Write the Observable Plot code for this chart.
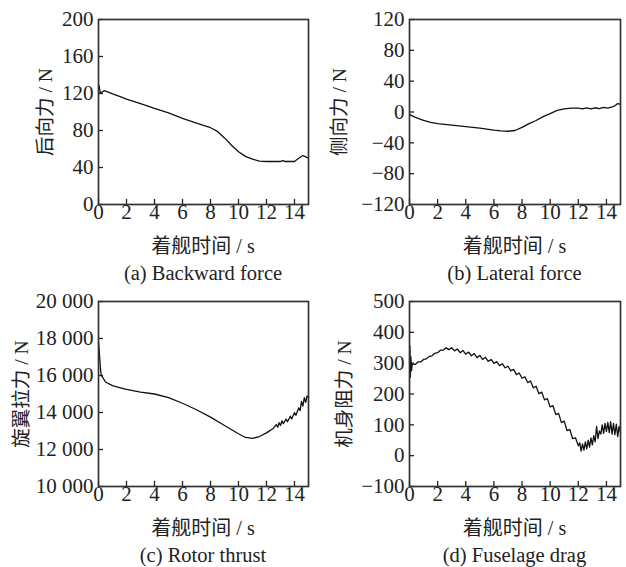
<!DOCTYPE html>
<html>
<head>
<meta charset="utf-8">
<script src="https://cdn.jsdelivr.net/npm/d3@7"></script>
<script src="https://cdn.jsdelivr.net/npm/@observablehq/plot@0.6"></script>
<style>
  html, body { margin: 0; padding: 0; background: #fff; }
  #wrap { position: relative; width: 626px; height: 567px; background: #fff; overflow: hidden;
          font-family: "Liberation Serif", "Noto Sans CJK SC", serif; color: #222; }
  .panel { position: absolute; }
  .lbl { position: absolute; white-space: nowrap; font-size: 20px; transform: translate(-50%, -50%); line-height: 1; }
  .cap { font-size: 20.5px; }
  .ylbl { position: absolute; white-space: nowrap; font-size: 19.5px; transform: translate(-50%, -50%) rotate(-90deg); line-height: 1; }
</style>
</head>
<body>
<div id="wrap"></div>
<script>
// ---- data ----
const xTicks = [0, 2, 4, 6, 8, 10, 12, 14];

const tA = [0, 0.04, 0.12, 0.25, 0.41, 0.7, 1, 1.5, 2, 3, 4, 5, 6, 7, 8, 8.5, 9, 9.5, 10, 10.5, 11, 11.5, 12, 12.5, 13, 13.2, 13.3, 13.5, 14, 14.3, 14.6, 14.8, 15];
const yA = [126, 128.5, 121, 121.5, 123, 121.5, 119.5, 117, 114, 109, 104, 99, 93, 88, 83, 79, 72, 64, 57, 52, 49, 47, 46.5, 46.5, 46.5, 47.5, 46.5, 46.5, 46.5, 50, 53, 51.5, 50];
const yTicksA = [0, 40, 80, 120, 160, 200];

const tB = [0, 0.3, 0.7, 1, 1.5, 2, 2.5, 3, 4, 5, 6, 6.5, 7, 7.5, 8, 8.5, 9, 9.5, 10, 10.5, 11, 11.5, 12, 12.3, 12.6, 12.9, 13.2, 13.5, 13.8, 14.1, 14.4, 14.6, 14.8, 15];
const yB = [-3, -6, -9, -11, -13.5, -15, -16, -17, -19, -21, -23.5, -24.5, -25, -24, -20, -15, -11, -6, -2, 2, 4, 5, 5, 4, 5.5, 4, 5.5, 4.5, 6, 5, 6.5, 8, 11, 10];
const yTicksB = [-120, -80, -40, 0, 40, 80, 120];

const tC = [0, 0.05, 0.1, 0.15, 0.2, 0.3, 0.5, 1, 1.5, 2, 3, 4, 5, 6, 7, 8, 9, 10, 10.5, 11, 11.5, 12, 12.5, 12.7, 12.8, 12.9, 13.0, 13.1, 13.2, 13.4, 13.5, 13.7, 13.8, 14.0, 14.1, 14.3, 14.4, 14.5, 14.6, 14.7, 14.8, 14.9, 15];
const yC = [17800, 17300, 16800, 16300, 16000, 15900, 15650, 15450, 15350, 15250, 15100, 15000, 14800, 14500, 14150, 13750, 13300, 12850, 12650, 12600, 12700, 12900, 13150, 13350, 13200, 13450, 13300, 13550, 13400, 13650, 13500, 13800, 13650, 14000, 13850, 14250, 14100, 14600, 14350, 14800, 14550, 14900, 14800];
const yTicksC = [10000, 12000, 14000, 16000, 18000, 20000];

const tD = [0, 0.03, 0.06, 0.1, 0.14, 0.2, 0.4, 0.6, 0.8, 1.0, 1.2, 1.4, 1.6, 1.8, 2.0, 2.2, 2.4, 2.6, 2.8, 3.0, 3.2, 3.4, 3.6, 3.8, 4.0, 4.2, 4.4, 4.6, 4.8, 5.0, 5.2, 5.4, 5.6, 5.8, 6.0, 6.2, 6.4, 6.6, 6.8, 7.0, 7.2, 7.4, 7.6, 7.8, 8.0, 8.2, 8.4, 8.6, 8.8, 9.0, 9.2, 9.4, 9.6, 9.8, 10.0, 10.2, 10.4, 10.6, 10.8, 11.0, 11.2, 11.4, 11.6, 11.8, 12.0, 12.1, 12.2, 12.3, 12.4, 12.5, 12.6, 12.7, 12.8, 12.9, 13.0, 13.1, 13.2, 13.3, 13.4, 13.5, 13.6, 13.7, 13.8, 13.9, 14.0, 14.1, 14.2, 14.3, 14.4, 14.5, 14.6, 14.7, 14.8, 14.9, 15.0];
const yD = [300, 355, 255, 320, 275, 298, 296, 304, 304, 312, 314, 322, 324, 332, 334, 342, 342, 350, 344, 350, 340, 346, 334, 341, 329, 336, 324, 331, 318, 325, 312, 319, 306, 312, 299, 305, 292, 298, 285, 290, 275, 280, 263, 268, 251, 256, 237, 242, 220, 225, 201, 206, 181, 185, 158, 162, 133, 137, 107, 112, 81, 85, 55, 58, 32, 42, 15, 38, 18, 45, 22, 50, 28, 58, 35, 65, 45, 95, 55, 80, 70, 100, 72, 105, 78, 108, 75, 110, 70, 105, 68, 102, 62, 95, 75];
const yTicksD = [-100, 0, 100, 200, 300, 400, 500];

const xLabel = "着舰时间 / s";
const panels = [
  {t: tA, y: yA, ticks: yTicksA, ylabel: "后向力 / N", caption: "(a) Backward force", left: 0, top: 0, mL: 98, mR: 5, mT: 19, fmt: d3.format("d"), ylx: 46},
  {t: tB, y: yB, ticks: yTicksB, ylabel: "侧向力 / N", caption: "(b) Lateral force", left: 313, top: 0, mL: 96, mR: 6, mT: 19, fmt: d3.format("d"), ylx: 27},
  {t: tC, y: yC, ticks: yTicksC, ylabel: "旋翼拉力 / N", caption: "(c) Rotor thrust", left: 0, top: 280, mL: 98, mR: 5, mT: 21, fmt: d => d3.format(",")(d).replace(",", " "), ylx: 22},
  {t: tD, y: yD, ticks: yTicksD, ylabel: "机身阻力 / N", caption: "(d) Fuselage drag", left: 313, top: 280, mL: 96, mR: 6, mT: 21, fmt: d3.format("d"), ylx: 32}
];

const wrap = document.getElementById("wrap");
const W = 313, frameH = 185, mB = 30;

for (const p of panels) {
  const data = p.t.map((t, i) => ({t, v: p.y[i]}));
  const chart = Plot.plot({
    width: W,
    height: p.mT + frameH + mB,
    marginLeft: p.mL, marginRight: p.mR, marginTop: p.mT, marginBottom: mB,
    style: {fontFamily: '"Liberation Serif", serif', fontSize: "21px", color: "#222", background: "transparent", overflow: "visible"},
    x: {domain: [0, 15], ticks: xTicks, label: null},
    y: {domain: [p.ticks[0], p.ticks[p.ticks.length - 1]], ticks: p.ticks, label: null},
    marks: [
      Plot.axisX({ticks: xTicks, tickSize: -5, tickPadding: 5, tickFormat: d3.format("d"), label: null, stroke: "#222", strokeWidth: 1.3, fontSize: 21}),
      Plot.axisY({ticks: p.ticks, tickSize: -5, tickPadding: 10, tickFormat: p.fmt, label: null, stroke: "#222", strokeWidth: 1.3, fontSize: 21}),
      Plot.line(data, {x: "t", y: "v", stroke: "#111", strokeWidth: 1.3}),
      Plot.frame({stroke: "#333", strokeWidth: 1.7})
    ]
  });
  chart.classList.add("panel");
  chart.style.left = p.left + "px";
  chart.style.top = p.top + "px";
  wrap.appendChild(chart);

  const cx = p.left + p.mL + (W - p.mL - p.mR) / 2;
  const cy = p.top + p.mT + frameH / 2;
  const xl = document.createElement("div");
  xl.className = "lbl"; xl.textContent = xLabel;
  xl.style.left = cx + "px"; xl.style.top = (p.top + p.mT + frameH + 42) + "px";
  wrap.appendChild(xl);
  const cap = document.createElement("div");
  cap.className = "lbl cap"; cap.textContent = p.caption;
  cap.style.left = cx + "px"; cap.style.top = (p.top + p.mT + frameH + 69) + "px";
  wrap.appendChild(cap);
  const yl = document.createElement("div");
  yl.className = "ylbl"; yl.textContent = p.ylabel;
  yl.style.left = (p.left + p.ylx) + "px"; yl.style.top = cy + "px";
  wrap.appendChild(yl);
}
</script>
</body>
</html>
